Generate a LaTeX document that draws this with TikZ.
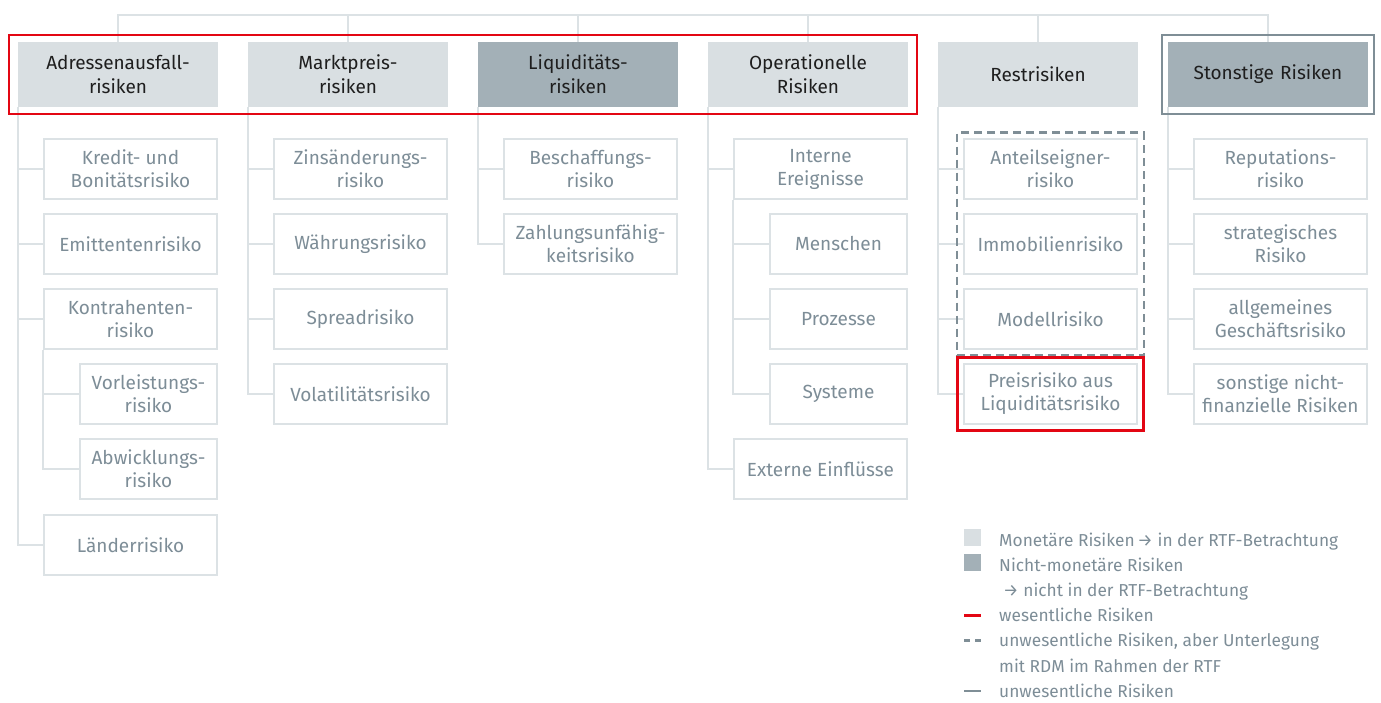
\documentclass[tikz,border=0pt]{standalone}
\usepackage{fontspec}
\setmainfont{Fira Sans}
\definecolor{rkHell}{HTML}{D9DFE2}
\definecolor{rkDunkel}{HTML}{A3B0B7}
\definecolor{rkLinie}{HTML}{DCE2E5}
\definecolor{rkText}{HTML}{1E1E1E}
\definecolor{rkGrau}{HTML}{7D8D97}
\definecolor{rkRahmen}{HTML}{7F8E96}
\definecolor{rkRot}{HTML}{E30613}
\usetikzlibrary{fit}

\tikzset{
  kopf/.style={fill=rkHell, minimum width=200, minimum height=65, inner sep=0pt,
    text width=194, align=center, text=rkText, font=\fontsize{19}{24}\selectfont},
  kopfdunkel/.style={kopf, fill=rkDunkel},
  risiko/.style={draw=rkLinie, line width=2pt, fill=white, minimum width=173,
    minimum height=60, inner sep=0pt, align=center, text=rkGrau,
    font=\fontsize{19}{23}\selectfont},
  unterrisiko/.style={risiko, minimum width=137},
  ast/.style={draw=rkLinie, line width=2pt},
  wesentlich/.style={draw=rkRot, line width=2.5pt, inner sep=0pt},
  unwesentlich/.style={draw=rkRahmen, line width=2pt, inner sep=0pt},
  mitrdm/.style={draw=rkRahmen, line width=2.5pt, dash pattern=on 8pt off 5pt, inner sep=0pt},
  legtext/.style={anchor=base west, inner sep=0pt, text=rkGrau, font=\fontsize{17.3}{20}\selectfont},
  legfeld/.style={minimum size=17, inner sep=0pt}
}

\begin{document}
\begin{tikzpicture}[x=1pt, y=-1pt]
  \useasboundingbox (0,0) rectangle (1381,702);

  % Kopfzeile
  \node[kopf] (adress) at (118,74.5) {Adressenausfall-\\risiken};
  \node[kopf] (markt) at (348,74.5) {Marktpreis-\\risiken};
  \node[kopfdunkel] (liqui) at (578,74.5) {Liquiditäts-\\risiken};
  \node[kopf] (oper) at (808,74.5) {Operationelle\\Risiken};
  \node[kopf] (rest) at (1038,74.5) {Restrisiken};
  \node[kopfdunkel] (sonst) at (1268,74.5) {Stonstige Risiken};
  \coordinate (oben) at (0,15);

  \draw[ast] (adress.north) |- (sonst.north |- oben) -- (sonst.north);
  \foreach \k in {markt,liqui,oper,rest}
    \draw[ast] (\k.north) -- (\k.north |- oben);

  % Adressenausfallrisiken
  \node[risiko] (kredit) at (130.5,169) {Kredit- und\\Bonitätsrisiko};
  \node[risiko] (emitt) at (130.5,244) {Emittentenrisiko};
  \node[risiko] (kontra) at (130.5,319) {Kontrahenten-\\risiko};
  \node[unterrisiko] (vorleist) at (148.5,394) {Vorleistungs-\\risiko};
  \node[unterrisiko] (abwickl) at (148.5,469) {Abwicklungs-\\risiko};
  \node[risiko] (laender) at (130.5,545) {Länderrisiko};

  % Marktpreisrisiken
  \node[risiko] (zins) at (360.5,169) {Zinsänderungs-\\risiko};
  \node[risiko] (waehr) at (360.5,244) {Währungsrisiko};
  \node[risiko] (spread) at (360.5,319) {Spreadrisiko};
  \node[risiko] (vola) at (360.5,394) {Volatilitätsrisiko};

  % Liquiditaetsrisiken
  \node[risiko] (beschaff) at (590.5,169) {Beschaffungs-\\risiko};
  \node[risiko] (zahlung) at (590.5,244) {Zahlungsunfähig-\\keitsrisiko};

  % Operationelle Risiken
  \node[risiko] (intern) at (820.5,169) {Interne\\Ereignisse};
  \node[unterrisiko] (mensch) at (838.5,244) {Menschen};
  \node[unterrisiko] (prozess) at (838.5,319) {Prozesse};
  \node[unterrisiko] (system) at (838.5,394) {Systeme};
  \node[risiko] (extern) at (820.5,469) {Externe Einflüsse};

  % Restrisiken
  \node[risiko] (anteil) at (1050.5,169) {Anteilseigner-\\risiko};
  \node[risiko] (immo) at (1050.5,244) {Immobilienrisiko};
  \node[risiko] (modell) at (1050.5,319) {Modellrisiko};
  \node[risiko] (preis) at (1050.5,394) {Preisrisiko aus\\Liquiditätsrisiko};

  % Sonstige Risiken
  \node[risiko] (reput) at (1280.5,169) {Reputations-\\risiko};
  \node[risiko] (strat) at (1280.5,244) {strategisches\\Risiko};
  \node[risiko] (geschaeft) at (1280.5,319) {allgemeines\\Geschäftsrisiko};
  \node[risiko] (nichtfin) at (1280.5,394) {sonstige nicht-\\finanzielle Risiken};

  \foreach \k in {kredit,emitt,kontra,laender}
    \draw[ast] (adress.south west) |- (\k.west);
  \foreach \k in {vorleist,abwickl}
    \draw[ast] (kontra.south west) |- (\k.west);
  \foreach \k in {zins,waehr,spread,vola}
    \draw[ast] (markt.south west) |- (\k.west);
  \foreach \k in {beschaff,zahlung}
    \draw[ast] (liqui.south west) |- (\k.west);
  \foreach \k in {intern,extern}
    \draw[ast] (oper.south west) |- (\k.west);
  \foreach \k in {mensch,prozess,system}
    \draw[ast] (intern.south west) |- (\k.west);
  \foreach \k in {anteil,immo,modell,preis}
    \draw[ast] (rest.south west) |- (\k.west);
  \foreach \k in {reput,strat,geschaeft,nichtfin}
    \draw[ast] (sonst.south west) |- (\k.west);

  % Rahmen
  \node[wesentlich, fit=(adress)(oper), inner xsep=9pt, inner ysep=7pt] (wesfrm) {};
  \node[unwesentlich, fit=(sonst), inner xsep=6pt, inner ysep=6.5pt] (unwfrm) {};
  \node[mitrdm, fit=(anteil)(modell), inner xsep=6pt, inner ysep=5.5pt] (rdmfrm) {};
  \node[wesentlich, fit=(preis), inner sep=5.5pt] (preisfrm) {};

  % Legende
  \node[legtext] (leg1) at (999,546) {Monetäre Risiken\,→ in der RTF-Betrachtung};
  \node[legtext] (leg2) at (999,571) {Nicht-monetäre Risiken};
  \node[legtext] (leg3) at (1003,596) {→ nicht in der RTF-Betrachtung};
  \node[legtext] (leg4) at (999,621.5) {wesentliche Risiken};
  \node[legtext] (leg5) at (999,646.5) {unwesentliche Risiken, aber Unterlegung};
  \node[legtext] (leg6) at (999,672) {mit RDM im Rahmen der RTF};
  \node[legtext] (leg7) at (999,697) {unwesentliche Risiken};
  \node[legfeld, fill=rkHell, anchor=south west] (sqhell) at ([xshift=-35pt]leg1.base west) {};
  \node[legfeld, fill=rkDunkel, anchor=south west] (sqdunkel) at ([xshift=-35pt]leg2.base west) {};
  \draw[draw=rkRot, line width=2.5pt] ([shift={(-35,-6)}]leg4.base west) -- ++(17,0);
  \draw[draw=rkRahmen, line width=2.5pt, dash pattern=on 6pt off 5pt] ([shift={(-35,-6)}]leg5.base west) -- ++(17,0);
  \draw[draw=rkRahmen, line width=2.5pt] ([shift={(-35,-6)}]leg7.base west) -- ++(17,0);
\end{tikzpicture}
\end{document}
